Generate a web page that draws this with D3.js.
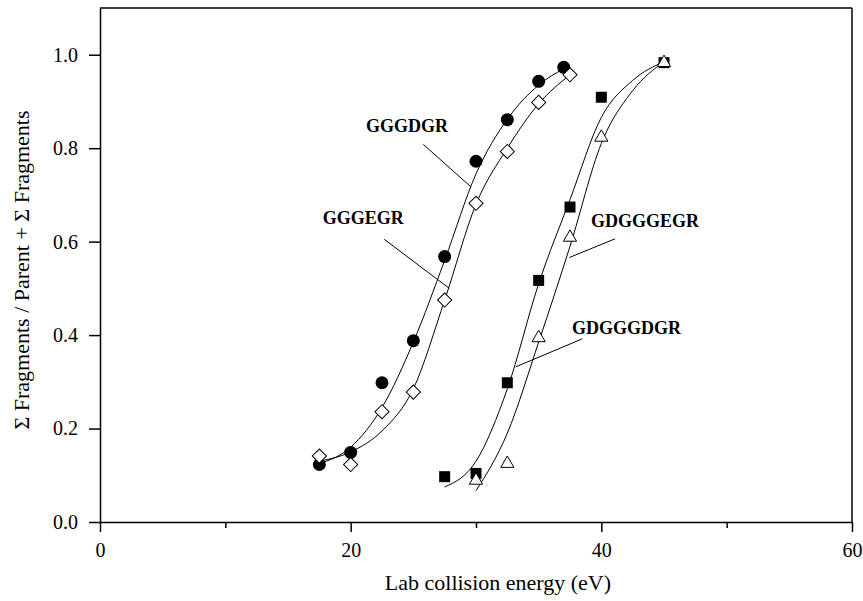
<!DOCTYPE html>
<html>
<head>
<meta charset="utf-8">
<script src="https://cdn.jsdelivr.net/npm/d3@7"></script>
<style>
  body { margin: 0; background: white; }
  svg { display: block; }
  svg text { font-family: "Liberation Serif", "Times New Roman", "DejaVu Serif", serif; }
</style>
</head>
<body>
<div id="wrapper"></div>
<script>
// measured points (energy in eV, fraction fragmented)
const energyGGGDGR = [17.5, 20, 22.5, 25, 27.5, 30, 32.5, 35, 37]
const valuesGGGDGR = [0.123, 0.149, 0.298, 0.388, 0.568, 0.772, 0.861, 0.943, 0.973]

const energyGGGEGR = [17.5, 20, 22.5, 25, 27.5, 30, 32.5, 35, 37.5]
const valuesGGGEGR = [0.141, 0.123, 0.236, 0.278, 0.475, 0.682, 0.793, 0.898, 0.957]

const energyGDGGGDGR = [27.5, 30, 32.5, 35, 37.5, 40, 45]
const valuesGDGGGDGR = [0.097, 0.104, 0.298, 0.517, 0.674, 0.909, 0.983]

const energyGDGGGEGR = [30, 32.5, 35, 37.5, 40, 45]
const valuesGDGGGEGR = [0.089, 0.125, 0.394, 0.609, 0.823, 0.983]

// fitted curves
const fitEnergyGGGDGR = [17.5, 20, 22.5, 25, 27.5, 30, 32.5, 35, 37]
const fitValuesGGGDGR = [0.125, 0.16, 0.245, 0.385, 0.56, 0.745, 0.862, 0.935, 0.97]

const fitEnergyGGGEGR = [17.5, 20, 22.5, 25, 27.5, 30, 32.5, 35, 37.5]
const fitValuesGGGEGR = [0.13, 0.15, 0.195, 0.285, 0.475, 0.68, 0.8, 0.895, 0.957]

const fitEnergyGDGGGDGR = [27.5, 30, 32.5, 35, 37.5, 40, 42.5, 45]
const fitValuesGDGGGDGR = [0.075, 0.13, 0.285, 0.51, 0.69, 0.866, 0.945, 0.985]

const fitEnergyGDGGGEGR = [30, 32.5, 35, 37.5, 40, 42.5, 45]
const fitValuesGDGGGEGR = [0.067, 0.19, 0.385, 0.59, 0.81, 0.923, 0.985]

// labels: text start, then leader line from -> to
const labelNames = ["GGGDGR", "GGGEGR", "GDGGGEGR", "GDGGGDGR"]
const labelX = [21.22, 17.77, 39.18, 37.66]
const labelY = [0.835, 0.637, 0.631, 0.402]
const leaderX1 = [25.8, 22.68, 41.09, 38.48]
const leaderY1 = [0.808, 0.605, 0.606, 0.392]
const leaderX2 = [29.58, 27.87, 37.45, 33.17]
const leaderY2 = [0.7175, 0.5, 0.566, 0.332]

const xMajorTicks = [0, 20, 40, 60]
const xMinorTicks = [10, 30, 50]
const yTicks = [0, 0.2, 0.4, 0.6, 0.8, 1.0]

const xLabel = "Lab collision energy (eV)"
const yLabel = "Σ Fragments / Parent + Σ Fragments"

const zip = (xs, ys) => xs.map((x, i) => ({x: x, y: ys[i]}))

const serif = "\"Liberation Serif\", \"Times New Roman\", \"DejaVu Serif\", serif"

let dimensions = {
  width: 863,
  height: 601,
  margin: {
    top: 8,
    right: 11,
    bottom: 79,
    left: 100
  }
}
dimensions.boundedWidth = dimensions.width - dimensions.margin.left - dimensions.margin.right
dimensions.boundedHeight = dimensions.height - dimensions.margin.top - dimensions.margin.bottom

const wrapper = d3.select("#wrapper")
  .append("svg")
    .attr("width", dimensions.width)
    .attr("height", dimensions.height)
    .attr("font-family", serif)

const bounds = wrapper.append("g")
    .attr("transform", `translate(${dimensions.margin.left},${dimensions.margin.top})`)

const xScale = d3.scaleLinear()
    .domain([0, 60])
    .range([0, dimensions.boundedWidth])

const yScale = d3.scaleLinear()
    .domain([0, 1.1])
    .range([dimensions.boundedHeight, 0])

const xAccessor = d => d.x
const yAccessor = d => d.y

// frame top + right
bounds.append("line")
    .attr("x1", 0).attr("x2", dimensions.boundedWidth)
    .attr("y1", 0).attr("y2", 0)
    .attr("stroke", "black").attr("stroke-width", 1.5)
bounds.append("line")
    .attr("x1", dimensions.boundedWidth).attr("x2", dimensions.boundedWidth)
    .attr("y1", 0).attr("y2", dimensions.boundedHeight)
    .attr("stroke", "black").attr("stroke-width", 1.5)

const xAxisGenerator = d3.axisBottom()
    .scale(xScale)
    .tickValues(xMajorTicks)
    .tickSizeInner(10)
    .tickSizeOuter(0)
    .tickPadding(11)

const xAxis = bounds.append("g")
    .attr("transform", `translate(0,${dimensions.boundedHeight})`)
    .call(xAxisGenerator)

const xMinorAxis = bounds.append("g")
    .attr("transform", `translate(0,${dimensions.boundedHeight})`)
    .call(d3.axisBottom(xScale).tickValues(xMinorTicks).tickSize(6).tickFormat(""))
xMinorAxis.select(".domain").remove()

const yAxisGenerator = d3.axisLeft()
    .scale(yScale)
    .tickValues(yTicks)
    .tickFormat(d3.format(".1f"))
    .tickSizeInner(11)
    .tickSizeOuter(0)
    .tickPadding(11)

const yAxis = bounds.append("g")
    .call(yAxisGenerator)

// d3 axes put sans-serif on their groups; take it off
bounds.selectAll("g").attr("font-family", null).attr("font-size", null)

bounds.selectAll(".domain")
    .attr("stroke-width", 1.5)
bounds.selectAll(".tick line")
    .attr("stroke-width", 1.5)
bounds.selectAll(".tick text")
    .attr("fill", "black")
    .style("font-size", "20px")

xAxis.append("text")
    .attr("x", xScale(31.75))
    .attr("y", 68)
    .attr("fill", "black")
    .style("font-size", "22px")
    .style("text-anchor", "middle")
    .text(xLabel)

yAxis.append("text")
    .attr("transform", `translate(-71,${dimensions.boundedHeight / 2 + 5}) rotate(-90)`)
    .attr("fill", "black")
    .style("font-size", "22px")
    .style("text-anchor", "middle")
    .text(yLabel)

// fitted lines
const lineGenerator = d3.line()
    .x(d => xScale(xAccessor(d)))
    .y(d => yScale(yAccessor(d)))
    .curve(d3.curveMonotoneX)

const fits = [
  zip(fitEnergyGGGDGR, fitValuesGGGDGR),
  zip(fitEnergyGGGEGR, fitValuesGGGEGR),
  zip(fitEnergyGDGGGDGR, fitValuesGDGGGDGR),
  zip(fitEnergyGDGGGEGR, fitValuesGDGGGEGR)
]

bounds.selectAll(".fit")
    .data(fits)
  .enter().append("path")
    .attr("class", "fit")
    .attr("d", lineGenerator)
    .attr("fill", "none")
    .attr("stroke", "black")
    .attr("stroke-width", 1)

// leader lines + labels
const labels = labelNames.map((name, i) => ({
  name: name,
  x: labelX[i], y: labelY[i],
  x1: leaderX1[i], y1: leaderY1[i],
  x2: leaderX2[i], y2: leaderY2[i]
}))

bounds.selectAll(".leader")
    .data(labels)
  .enter().append("line")
    .attr("class", "leader")
    .attr("x1", d => xScale(d.x1))
    .attr("y1", d => yScale(d.y1))
    .attr("x2", d => xScale(d.x2))
    .attr("y2", d => yScale(d.y2))
    .attr("stroke", "black")
    .attr("stroke-width", 1)

bounds.selectAll(".label")
    .data(labels)
  .enter().append("text")
    .attr("class", "label")
    .attr("x", d => xScale(d.x))
    .attr("y", d => yScale(d.y))
    .attr("fill", "black")
    .style("font-size", "18px")
    .style("font-weight", "bold")
    .text(d => d.name)

// markers
const circleData = zip(energyGGGDGR, valuesGGGDGR)
const diamondData = zip(energyGGGEGR, valuesGGGEGR)
const squareData = zip(energyGDGGGDGR, valuesGDGGGDGR)
const triangleData = zip(energyGDGGGEGR, valuesGDGGGEGR)

bounds.selectAll(".dot")
    .data(circleData)
  .enter().append("circle")
    .attr("class", "dot")
    .attr("cx", d => xScale(xAccessor(d)))
    .attr("cy", d => yScale(yAccessor(d)))
    .attr("r", 6.5)
    .attr("fill", "black")

const diamondPath = d3.symbol().type(d3.symbolSquare).size(100)()

bounds.selectAll(".diamond")
    .data(diamondData)
  .enter().append("path")
    .attr("class", "diamond")
    .attr("d", diamondPath)
    .attr("transform", d => `translate(${xScale(xAccessor(d))},${yScale(yAccessor(d))}) rotate(45)`)
    .attr("fill", "white")
    .attr("stroke", "black")
    .attr("stroke-width", 1)

bounds.selectAll(".square")
    .data(squareData)
  .enter().append("path")
    .attr("class", "square")
    .attr("d", d3.symbol().type(d3.symbolSquare).size(121)())
    .attr("transform", d => `translate(${xScale(xAccessor(d))},${yScale(yAccessor(d))})`)
    .attr("fill", "black")

bounds.selectAll(".triangle")
    .data(triangleData)
  .enter().append("path")
    .attr("class", "triangle")
    .attr("d", d3.symbol().type(d3.symbolTriangle).size(75)())
    .attr("transform", d => `translate(${xScale(xAccessor(d))},${yScale(yAccessor(d))})`)
    .attr("fill", "white")
    .attr("stroke", "black")
    .attr("stroke-width", 1)
</script>
</body>
</html>
